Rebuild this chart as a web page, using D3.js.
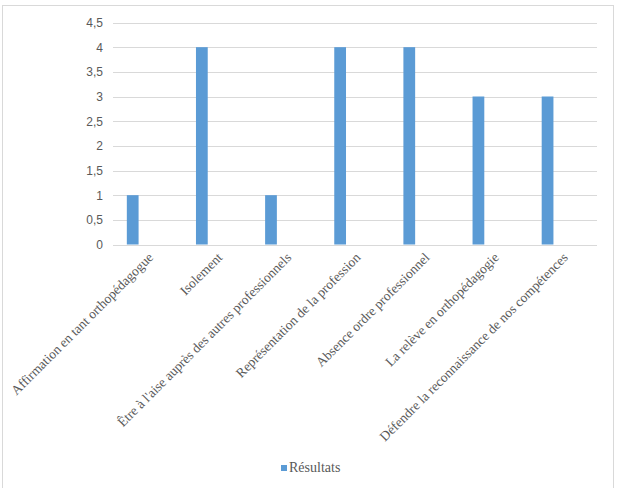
<!DOCTYPE html>
<html><head><meta charset="utf-8">
<script src="https://cdn.jsdelivr.net/npm/d3@7"></script>
<style>body{margin:0;background:#fff;} svg{display:block;} .serif{font-family:'Liberation Serif','Times New Roman',serif;}</style>
</head><body>
<script>
const categories = ["Affirmation en tant orthopédagogue","Isolement","Être à l'aise auprès des autres professionnels","Représentation de la profession","Absence ordre professionnel","La relève en orthopédagogie","Défendre la reconnaissance de nos compétences"];
const values = [1,4,1,4,4,3,3];
const yTicks = [0,0.5,1,1.5,2,2.5,3,3.5,4,4.5];
const seriesName = "Résultats";

const W=617,H=488;
const svg=d3.select("body").append("svg").attr("width",W).attr("height",H);
svg.append("rect").attr("x",2.5).attr("y",5.5).attr("width",611).attr("height",490).attr("fill","#fff").attr("stroke","#d9d9d9");

const x=d3.scaleBand().domain(categories).range([113,597]).padding(0);
const y=d3.scaleLinear().domain([0,4.5]).range([244.5,22.5]);

const grid=svg.append("g");
grid.selectAll("line").data(yTicks).join("line")
 .attr("x1",113).attr("x2",597).attr("y1",d=>Math.round(y(d))+0.5).attr("y2",d=>Math.round(y(d))+0.5)
 .attr("stroke","#d9d9d9").attr("stroke-width",1);

const yAxis=d3.axisLeft(y).tickValues(yTicks).tickSize(0).tickPadding(10).tickFormat(d=>String(d).replace(".",","));
const ya=svg.append("g").attr("transform","translate(113,0)").call(yAxis);
ya.select(".domain").remove();
ya.selectAll("text").attr("fill","#595959").style("font-family","'Liberation Sans', Arial, sans-serif").style("font-size","12px");

svg.append("g").selectAll("rect").data(values).join("rect")
 .attr("x",(d,i)=>x(categories[i])+x.bandwidth()*0.2)
 .attr("width",x.bandwidth()*0.17)
 .attr("y",d=>y(d)).attr("height",d=>y(0)-y(d))
 .attr("fill","#5b9bd5");

const xa=svg.append("g");
xa.selectAll("text").data(categories).join("text")
 .attr("class","serif")
 .attr("transform",d=>`translate(${x(d)+x.bandwidth()/2+3},${255}) rotate(-45)`)
 .attr("text-anchor","end").attr("dy","0.35em")
 .attr("fill","#595959").style("font-size","13.5px")
 .text(d=>d);

const lg=svg.append("g");
lg.append("rect").attr("x",281).attr("y",465).attr("width",6).attr("height",6).attr("fill","#5b9bd5");
lg.append("text").attr("class","serif").attr("x",289).attr("y",472).attr("fill","#595959").style("font-size","14px").text(seriesName);
</script>
</body></html>
